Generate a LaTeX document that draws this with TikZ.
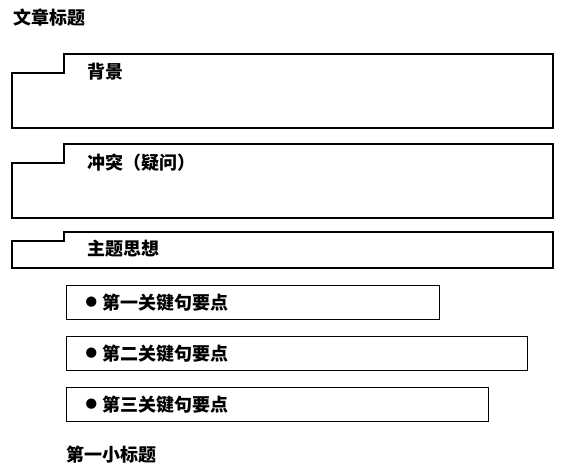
\documentclass[tikz,border=0pt]{standalone}
\usepackage{fontspec}
\setmainfont{Noto Sans CJK SC}
\newfontfamily\cjk{Noto Sans CJK SC}
\usepackage{tikz}
\usetikzlibrary{positioning}
\tikzstyle{frame} = [draw, line width=1.2pt, line join=miter]
\tikzstyle{heading} = [anchor=west, inner sep=0pt, font=\cjk\bfseries\fontsize{18}{20}\selectfont]
\tikzstyle{point} = [frame, anchor=north west, minimum height=34pt, inner xsep=19pt,
    inner ysep=0pt, align=left, font=\cjk\bfseries\fontsize{18}{20}\selectfont]
\newcommand{\dotmark}{\raisebox{2.5pt}{\fontsize{11.5}{12}\selectfont ●}\hspace{5.5pt}}

\begin{document}
\begin{tikzpicture}[x=1pt, y=-1pt]
    \useasboundingbox (0,0) rectangle (566,470);
    % Title
    \node [heading] (title) at (13,18) {文章标题};
    % Step boxes
    \draw [frame] (12,73) -- (64,73) -- (64,54) -- (553,54) -- (553,128) -- (12,128) -- cycle;
    \node [heading] (bg) at (87,72) {背景};
    \draw [frame] (12,163) -- (64,163) -- (64,144) -- (553,144) -- (553,218) -- (12,218) -- cycle;
    \node [heading] (conflict) at (87,163) {冲突（疑问）};
    \draw [frame] (12,241) -- (64,241) -- (64,232) -- (553,232) -- (553,268) -- (12,268) -- cycle;
    \node [heading] (theme) at (87,249) {主题思想};
    % Key points
    \node [point, text width=335pt] (p1) at (66,285) {\dotmark 第一关键句要点};
    \node [point, text width=423pt] (p2) at (66,336) {\dotmark 第二关键句要点};
    \node [point, text width=384pt] (p3) at (66,387) {\dotmark 第三关键句要点};
    % Sub title
    \node [heading] (sub) at (66,455) {第一小标题};
\end{tikzpicture}
\end{document}
